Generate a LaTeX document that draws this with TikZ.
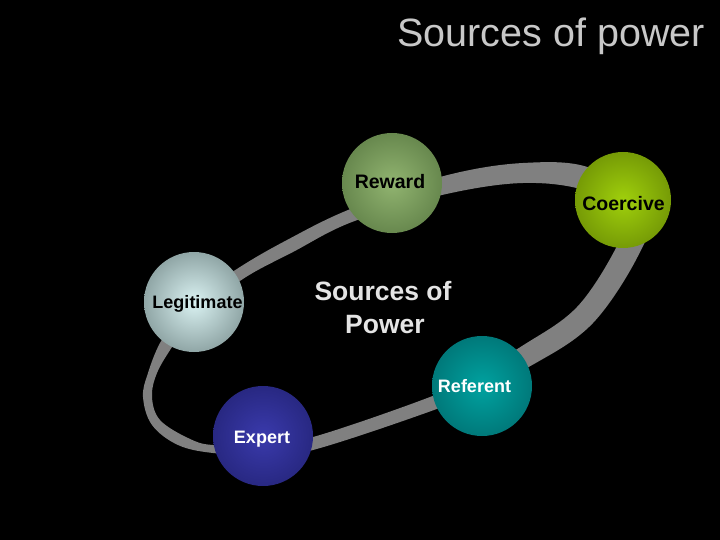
\documentclass[tikz,border=0pt]{standalone}
\usepackage{fontspec}
\setmainfont{Liberation Sans}
\definecolor{ringgray}{RGB}{128,128,128}
\definecolor{rewin}{RGB}{145,180,112}
\definecolor{rewout}{RGB}{62,92,44}
\definecolor{coein}{RGB}{160,208,12}
\definecolor{coeout}{RGB}{76,102,0}
\definecolor{legin}{RGB}{218,242,242}
\definecolor{legout}{RGB}{70,90,90}
\definecolor{expin}{RGB}{58,58,172}
\definecolor{expout}{RGB}{22,22,88}
\definecolor{refin}{RGB}{0,162,160}
\definecolor{refout}{RGB}{0,80,84}
\definecolor{titlegray}{RGB}{200,200,200}
\definecolor{centergray}{RGB}{228,228,228}
\pgfdeclareradialshading{rewshade}{\pgfpoint{0bp}{0bp}}{color(0bp)=(rewin); color(50bp)=(rewout)}
\pgfdeclareradialshading{coeshade}{\pgfpoint{0bp}{0bp}}{color(0bp)=(coein); color(50bp)=(coeout)}
\pgfdeclareradialshading{legshade}{\pgfpoint{0bp}{0bp}}{color(0bp)=(legin); color(50bp)=(legout)}
\pgfdeclareradialshading{expshade}{\pgfpoint{0bp}{0bp}}{color(0bp)=(expin); color(50bp)=(expout)}
\pgfdeclareradialshading{refshade}{\pgfpoint{0bp}{0bp}}{color(0bp)=(refin); color(50bp)=(refout)}
\tikzset{
  sphere/.style={circle, minimum size=100pt, inner sep=0pt},
  darklabel/.style={anchor=base, font=\fontsize{18}{20}\selectfont\bfseries, text=black, inner sep=0pt},
  lightlabel/.style={anchor=base, font=\fontsize{18}{20}\selectfont\bfseries, text=white, inner sep=0pt},
}
\begin{document}
\begin{tikzpicture}[x=1pt, y=-1pt]
\fill[black] (0,0) rectangle (720,540);
\useasboundingbox (0,0) rectangle (720,540);
% ring
\fill[ringgray, even odd rule]
  plot[smooth cycle, tension=0.6] coordinates {(348,210) (440,177) (523,163) (593,169) (647,213) (639,254) (593,323) (534,364) (473,392) (434,410) (313,450) (263,455) (213,453) (178,445) (152,425) (143,397) (148,373) (160,343) (178,318) (196,298) (240,267) (287,240)}
  plot[smooth cycle, tension=0.6] coordinates {(352,222) (442,195) (523,183) (587,191) (623,217) (617,246) (577,307) (522,346) (467,378) (430,397) (313,437) (263,443) (213,445) (188,438) (160,420) (152,397) (157,373) (172,347) (188,324) (204,308) (246,277) (293,252)};
% spheres
\node[sphere, shading=rewshade] (reward) at (392,183) {};
\node[sphere, minimum size=96pt, shading=coeshade] (coercive) at (623,200) {};
\node[sphere, shading=legshade] (legit) at (194,302) {};
\node[sphere, shading=expshade] (expert) at (263,436) {};
\node[sphere, shading=refshade] (referent) at (482,386) {};
% labels
\node[darklabel, font=\fontsize{19.5}{22}\selectfont\bfseries] (rewardt) at (390,189) {Reward};
\node[darklabel, font=\fontsize{19.5}{22}\selectfont\bfseries] (coercivet) at (623.5,211) {Coercive};
\node[darklabel] (legitt) at (197.5,308) {Legitimate};
\node[lightlabel] (expertt) at (262,443) {Expert};
\node[lightlabel] (referentt) at (474.5,392) {Referent};
\node[anchor=base, inner sep=0pt, text=centergray, font=\fontsize{26.5}{33}\selectfont\bfseries] (center1) at (383,300) {Sources of};
\node[anchor=base, inner sep=0pt, text=centergray, font=\fontsize{26.5}{33}\selectfont\bfseries] (center2) at (385,333) {Power};
\node[anchor=base east, inner sep=0pt, text=titlegray, font=\fontsize{39.5}{46}\selectfont] (title) at (705,47) {Sources of power};
\end{tikzpicture}
\end{document}
